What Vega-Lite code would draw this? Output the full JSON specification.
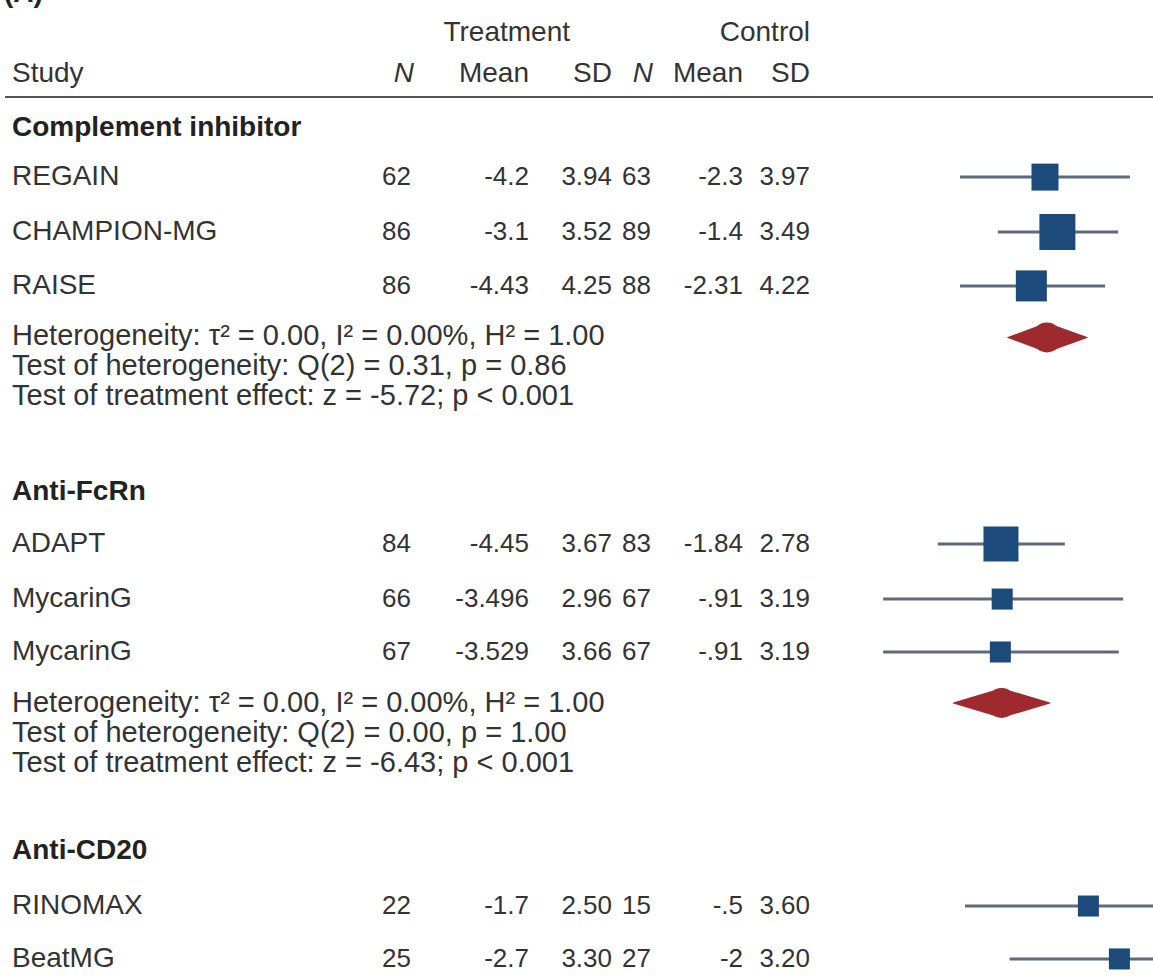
{
  "$schema": "https://vega.github.io/schema/vega-lite/v6.json",
  "background": "white",
  "padding": 0,
  "spacing": 0,
  "bounds": "flush",
  "config": {
    "view": {"stroke": null},
    "text": {"font": "Liberation Sans", "fontSize": 28, "color": "#333333", "baseline": "middle"},
    "concat": {"spacing": 0}
  },
  "datasets": {
    "table": [
      {"row": 0.3, "kind": "panel", "label": "(A)"},
      {"row": 1.22, "kind": "span", "tSD": "Treatment", "cSD": "Control"},
      {"row": 2.74, "kind": "colhead", "label": "Study", "tN": "N", "tMean": "Mean", "tSD": "SD", "cN": "N", "cMean": "Mean", "cSD": "SD"},
      {"row": 4.74, "kind": "group", "label": "Complement inhibitor"},
      {"row": 6.56, "kind": "study", "label": "REGAIN", "tN": "62", "tMean": "-4.2", "tSD": "3.94", "cN": "63", "cMean": "-2.3", "cSD": "3.97"},
      {"row": 8.59, "kind": "study", "label": "CHAMPION-MG", "tN": "86", "tMean": "-3.1", "tSD": "3.52", "cN": "89", "cMean": "-1.4", "cSD": "3.49"},
      {"row": 10.59, "kind": "study", "label": "RAISE", "tN": "86", "tMean": "-4.43", "tSD": "4.25", "cN": "88", "cMean": "-2.31", "cSD": "4.22"},
      {"row": 12.44, "kind": "stat", "label": "Heterogeneity: τ² = 0.00, I² = 0.00%, H² = 1.00"},
      {"row": 13.56, "kind": "stat", "label": "Test of heterogeneity: Q(2) = 0.31, p = 0.86"},
      {"row": 14.67, "kind": "stat", "label": "Test of treatment effect: z = -5.72; p < 0.001"},
      {"row": 18.22, "kind": "group", "label": "Anti-FcRn"},
      {"row": 20.15, "kind": "study", "label": "ADAPT", "tN": "84", "tMean": "-4.45", "tSD": "3.67", "cN": "83", "cMean": "-1.84", "cSD": "2.78"},
      {"row": 22.19, "kind": "study", "label": "MycarinG", "tN": "66", "tMean": "-3.496", "tSD": "2.96", "cN": "67", "cMean": "-.91", "cSD": "3.19"},
      {"row": 24.15, "kind": "study", "label": "MycarinG", "tN": "67", "tMean": "-3.529", "tSD": "3.66", "cN": "67", "cMean": "-.91", "cSD": "3.19"},
      {"row": 26.04, "kind": "stat", "label": "Heterogeneity: τ² = 0.00, I² = 0.00%, H² = 1.00"},
      {"row": 27.15, "kind": "stat", "label": "Test of heterogeneity: Q(2) = 0.00, p = 1.00"},
      {"row": 28.26, "kind": "stat", "label": "Test of treatment effect: z = -6.43; p < 0.001"},
      {"row": 31.52, "kind": "group", "label": "Anti-CD20"},
      {"row": 33.56, "kind": "study", "label": "RINOMAX", "tN": "22", "tMean": "-1.7", "tSD": "2.50", "cN": "15", "cMean": "-.5", "cSD": "3.60"},
      {"row": 35.52, "kind": "study", "label": "BeatMG", "tN": "25", "tMean": "-2.7", "tSD": "3.30", "cN": "27", "cMean": "-2", "cSD": "3.20"}
    ],
    "studies": [
      {"study": "REGAIN", "row": 6.56, "effect": -1.9, "lower": -3.27, "upper": -0.53, "weight": 12.2},
      {"study": "CHAMPION-MG", "row": 8.59, "effect": -1.7, "lower": -2.66, "upper": -0.72, "weight": 21.7},
      {"study": "RAISE", "row": 10.59, "effect": -2.12, "lower": -3.27, "upper": -0.93, "weight": 16.1},
      {"study": "ADAPT", "row": 20.15, "effect": -2.61, "lower": -3.63, "upper": -1.58, "weight": 20.5},
      {"study": "MycarinG", "row": 22.19, "effect": -2.59, "lower": -4.51, "upper": -0.64, "weight": 7.4},
      {"study": "MycarinG", "row": 24.15, "effect": -2.62, "lower": -4.51, "upper": -0.71, "weight": 7.4},
      {"study": "RINOMAX", "row": 33.56, "effect": -1.2, "lower": -3.19, "upper": 0.79, "weight": 7.4},
      {"study": "BeatMG", "row": 35.52, "effect": -0.7, "lower": -2.47, "upper": 1.07, "weight": 7.4}
    ],
    "pooled": [
      {"group": "Complement inhibitor", "row": 12.5, "vertex": "lower", "effect": -2.5},
      {"group": "Complement inhibitor", "row": 12.5, "vertex": "estimate", "effect": -1.87},
      {"group": "Complement inhibitor", "row": 12.5, "vertex": "upper", "effect": -1.22},
      {"group": "Anti-FcRn", "row": 26.04, "vertex": "lower", "effect": -3.38},
      {"group": "Anti-FcRn", "row": 26.04, "vertex": "estimate", "effect": -2.6},
      {"group": "Anti-FcRn", "row": 26.04, "vertex": "upper", "effect": -1.82}
    ]
  },
  "hconcat": [
    {
      "width": 370, "height": 980,
      "data": {"name": "table"},
      "layer": [
        {"transform": [{"filter": "datum.kind === 'panel'"}],
         "mark": {"type": "text", "align": "left", "baseline": "bottom", "fontWeight": "bold", "fontSize": 28, "clip": true, "color": "#222222"},
         "encoding": {"x": {"value": 4}, "y": {"field": "row", "type": "quantitative", "scale": {"domain": [0, 36.3], "reverse": true, "nice": false, "zero": false}, "axis": null}, "text": {"field": "label"}}},
        {"transform": [{"filter": "datum.kind === 'colhead' || datum.kind === 'study'"}],
         "mark": {"type": "text", "align": "left"},
         "encoding": {"x": {"value": 12}, "y": {"field": "row", "type": "quantitative", "scale": {"domain": [0, 36.3], "reverse": true, "nice": false, "zero": false}, "axis": null}, "text": {"field": "label"}}},
        {"transform": [{"filter": "datum.kind === 'stat'"}],
         "mark": {"type": "text", "align": "left", "fontSize": 29},
         "encoding": {"x": {"value": 12}, "y": {"field": "row", "type": "quantitative", "scale": {"domain": [0, 36.3], "reverse": true, "nice": false, "zero": false}, "axis": null}, "text": {"field": "label"}}},
        {"transform": [{"filter": "datum.kind === 'group'"}],
         "mark": {"type": "text", "align": "left", "fontWeight": "bold", "color": "#222222"},
         "encoding": {"x": {"value": 12}, "y": {"field": "row", "type": "quantitative", "scale": {"domain": [0, 36.3], "reverse": true, "nice": false, "zero": false}, "axis": null}, "text": {"field": "label"}}},
        {"mark": {"type": "rule", "color": "#555555", "strokeWidth": 2},
         "encoding": {"x": {"value": 5}, "x2": {"value": "width"}, "y": {"datum": 3.59, "type": "quantitative", "scale": {"domain": [0, 36.3], "reverse": true, "nice": false, "zero": false}, "axis": null}}}
      ]
    },
    {
      "width": 41, "height": 980,
      "data": {"name": "table"},
      "layer": [
        {"transform": [{"filter": "datum.kind === 'study'"}],
         "mark": {"type": "text", "align": "right", "fontSize": 26},
         "encoding": {"x": {"value": "width"}, "y": {"field": "row", "type": "quantitative", "scale": {"domain": [0, 36.3], "reverse": true, "nice": false, "zero": false}, "axis": null}, "text": {"field": "tN"}}},
        {"transform": [{"filter": "datum.kind === 'colhead'"}],
         "mark": {"type": "text", "align": "right", "fontStyle": "italic", "dx": 3},
         "encoding": {"x": {"value": "width"}, "y": {"field": "row", "type": "quantitative", "scale": {"domain": [0, 36.3], "reverse": true, "nice": false, "zero": false}, "axis": null}, "text": {"field": "tN"}}},
        {"mark": {"type": "rule", "color": "#555555", "strokeWidth": 2},
         "encoding": {"x": {"value": 0}, "x2": {"value": "width"}, "y": {"datum": 3.59, "type": "quantitative", "scale": {"domain": [0, 36.3], "reverse": true, "nice": false, "zero": false}, "axis": null}}}
      ]
    },
    {
      "width": 118, "height": 980,
      "data": {"name": "table"},
      "layer": [
        {"transform": [{"filter": "datum.kind === 'study'"}],
         "mark": {"type": "text", "align": "right", "fontSize": 26},
         "encoding": {"x": {"value": "width"}, "y": {"field": "row", "type": "quantitative", "scale": {"domain": [0, 36.3], "reverse": true, "nice": false, "zero": false}, "axis": null}, "text": {"field": "tMean"}}},
        {"transform": [{"filter": "datum.kind === 'colhead'"}],
         "mark": {"type": "text", "align": "right"},
         "encoding": {"x": {"value": "width"}, "y": {"field": "row", "type": "quantitative", "scale": {"domain": [0, 36.3], "reverse": true, "nice": false, "zero": false}, "axis": null}, "text": {"field": "tMean"}}},
        {"mark": {"type": "rule", "color": "#555555", "strokeWidth": 2},
         "encoding": {"x": {"value": 0}, "x2": {"value": "width"}, "y": {"datum": 3.59, "type": "quantitative", "scale": {"domain": [0, 36.3], "reverse": true, "nice": false, "zero": false}, "axis": null}}}
      ]
    },
    {
      "width": 83, "height": 980,
      "data": {"name": "table"},
      "layer": [
        {"transform": [{"filter": "datum.kind === 'study'"}],
         "mark": {"type": "text", "align": "right", "fontSize": 26},
         "encoding": {"x": {"value": "width"}, "y": {"field": "row", "type": "quantitative", "scale": {"domain": [0, 36.3], "reverse": true, "nice": false, "zero": false}, "axis": null}, "text": {"field": "tSD"}}},
        {"transform": [{"filter": "datum.kind === 'colhead'"}],
         "mark": {"type": "text", "align": "right"},
         "encoding": {"x": {"value": "width"}, "y": {"field": "row", "type": "quantitative", "scale": {"domain": [0, 36.3], "reverse": true, "nice": false, "zero": false}, "axis": null}, "text": {"field": "tSD"}}},
        {"transform": [{"filter": "datum.kind === 'span'"}],
         "mark": {"type": "text", "align": "right", "dx": -42},
         "encoding": {"x": {"value": "width"}, "y": {"field": "row", "type": "quantitative", "scale": {"domain": [0, 36.3], "reverse": true, "nice": false, "zero": false}, "axis": null}, "text": {"field": "tSD"}}},
        {"mark": {"type": "rule", "color": "#555555", "strokeWidth": 2},
         "encoding": {"x": {"value": 0}, "x2": {"value": "width"}, "y": {"datum": 3.59, "type": "quantitative", "scale": {"domain": [0, 36.3], "reverse": true, "nice": false, "zero": false}, "axis": null}}}
      ]
    },
    {
      "width": 39, "height": 980,
      "data": {"name": "table"},
      "layer": [
        {"transform": [{"filter": "datum.kind === 'study'"}],
         "mark": {"type": "text", "align": "right", "fontSize": 26},
         "encoding": {"x": {"value": "width"}, "y": {"field": "row", "type": "quantitative", "scale": {"domain": [0, 36.3], "reverse": true, "nice": false, "zero": false}, "axis": null}, "text": {"field": "cN"}}},
        {"transform": [{"filter": "datum.kind === 'colhead'"}],
         "mark": {"type": "text", "align": "right", "fontStyle": "italic", "dx": 2},
         "encoding": {"x": {"value": "width"}, "y": {"field": "row", "type": "quantitative", "scale": {"domain": [0, 36.3], "reverse": true, "nice": false, "zero": false}, "axis": null}, "text": {"field": "cN"}}},
        {"mark": {"type": "rule", "color": "#555555", "strokeWidth": 2},
         "encoding": {"x": {"value": 0}, "x2": {"value": "width"}, "y": {"datum": 3.59, "type": "quantitative", "scale": {"domain": [0, 36.3], "reverse": true, "nice": false, "zero": false}, "axis": null}}}
      ]
    },
    {
      "width": 92, "height": 980,
      "data": {"name": "table"},
      "layer": [
        {"transform": [{"filter": "datum.kind === 'study'"}],
         "mark": {"type": "text", "align": "right", "fontSize": 26},
         "encoding": {"x": {"value": "width"}, "y": {"field": "row", "type": "quantitative", "scale": {"domain": [0, 36.3], "reverse": true, "nice": false, "zero": false}, "axis": null}, "text": {"field": "cMean"}}},
        {"transform": [{"filter": "datum.kind === 'colhead'"}],
         "mark": {"type": "text", "align": "right"},
         "encoding": {"x": {"value": "width"}, "y": {"field": "row", "type": "quantitative", "scale": {"domain": [0, 36.3], "reverse": true, "nice": false, "zero": false}, "axis": null}, "text": {"field": "cMean"}}},
        {"mark": {"type": "rule", "color": "#555555", "strokeWidth": 2},
         "encoding": {"x": {"value": 0}, "x2": {"value": "width"}, "y": {"datum": 3.59, "type": "quantitative", "scale": {"domain": [0, 36.3], "reverse": true, "nice": false, "zero": false}, "axis": null}}}
      ]
    },
    {
      "width": 67, "height": 980,
      "data": {"name": "table"},
      "layer": [
        {"transform": [{"filter": "datum.kind === 'study'"}],
         "mark": {"type": "text", "align": "right", "fontSize": 26},
         "encoding": {"x": {"value": "width"}, "y": {"field": "row", "type": "quantitative", "scale": {"domain": [0, 36.3], "reverse": true, "nice": false, "zero": false}, "axis": null}, "text": {"field": "cSD"}}},
        {"transform": [{"filter": "datum.kind === 'colhead' || datum.kind === 'span'"}],
         "mark": {"type": "text", "align": "right"},
         "encoding": {"x": {"value": "width"}, "y": {"field": "row", "type": "quantitative", "scale": {"domain": [0, 36.3], "reverse": true, "nice": false, "zero": false}, "axis": null}, "text": {"field": "cSD"}}},
        {"mark": {"type": "rule", "color": "#555555", "strokeWidth": 2},
         "encoding": {"x": {"value": 0}, "x2": {"value": "width"}, "y": {"datum": 3.59, "type": "quantitative", "scale": {"domain": [0, 36.3], "reverse": true, "nice": false, "zero": false}, "axis": null}}}
      ]
    },
    {
      "width": 343, "height": 980,
      "layer": [
        {"data": {"name": "studies"},
         "mark": {"type": "rule", "color": "#5e6a7a", "strokeWidth": 3, "clip": true},
         "encoding": {
           "x": {"field": "lower", "type": "quantitative", "scale": {"domain": [-5.69, -0.158], "nice": false, "zero": false}, "axis": null},
           "x2": {"field": "upper"},
           "y": {"field": "row", "type": "quantitative", "scale": {"domain": [0, 36.3], "reverse": true, "nice": false, "zero": false}, "axis": null}}},
        {"data": {"name": "studies"},
         "mark": {"type": "point", "shape": "square", "filled": true, "color": "#1c4a7b", "opacity": 1, "clip": true},
         "encoding": {
           "x": {"field": "effect", "type": "quantitative", "scale": {"domain": [-5.69, -0.158], "nice": false, "zero": false}, "axis": null},
           "y": {"field": "row", "type": "quantitative", "scale": {"domain": [0, 36.3], "reverse": true, "nice": false, "zero": false}, "axis": null},
           "size": {"field": "weight", "type": "quantitative", "scale": {"domain": [0, 21.7], "range": [0, 1296]}, "legend": null}}},
        {"data": {"name": "pooled"},
         "mark": {"type": "trail", "color": "#9e2a2f", "clip": true},
         "encoding": {
           "x": {"field": "effect", "type": "quantitative", "scale": {"domain": [-5.69, -0.158], "nice": false, "zero": false}, "axis": null},
           "y": {"field": "row", "type": "quantitative", "scale": {"domain": [0, 36.3], "reverse": true, "nice": false, "zero": false}, "axis": null},
           "detail": {"field": "group"},
           "size": {"field": "vertex", "type": "ordinal", "scale": {"type": "ordinal", "domain": ["lower", "estimate", "upper"], "range": [0, 30, 0]}, "legend": null}}},
        {"data": {"name": "studies"},
         "mark": {"type": "rule", "color": "#555555", "strokeWidth": 2},
         "encoding": {"x": {"value": 0}, "x2": {"value": "width"}, "y": {"datum": 3.59, "type": "quantitative", "scale": {"domain": [0, 36.3], "reverse": true, "nice": false, "zero": false}, "axis": null}}}
      ]
    }
  ]
}
